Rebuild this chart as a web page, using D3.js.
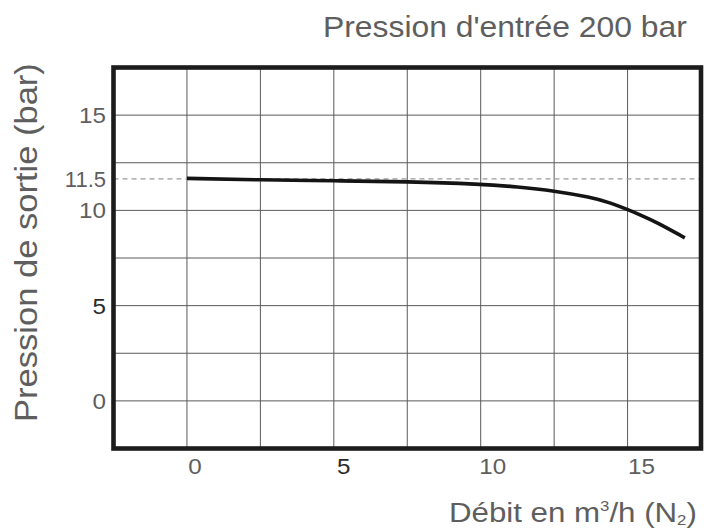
<!DOCTYPE html>
<html><head><meta charset="utf-8">
<script src="https://cdn.jsdelivr.net/npm/d3@7"></script>
<style>
html,body{margin:0;padding:0;background:#fff;}
svg{display:block;font-family:"Liberation Sans",Arial,Helvetica,sans-serif;}
</style></head>
<body>
<svg id="chart" width="704" height="531"></svg>
<script>
// ---- data ----
const flow     = [0, 2.5, 5, 7.5, 10, 11.25, 12.5, 13.75, 14.4, 15, 15.5, 16, 16.95];
const pressure = [11.68, 11.6, 11.55, 11.51, 11.38, 11.24, 11.03, 10.69, 10.41, 10.04, 9.72, 9.37, 8.56];
const xTicks = [0, 5, 10, 15];
const yTicks = [15, 10, 5, 0];
const gridX = [0, 2.5, 5, 7.5, 10, 12.5, 15];
const gridY = [0, 2.5, 5, 7.5, 10, 12.5, 15];
const refValue = 11.65;
const refLabel = "11.5";
const titleText = "Pression d'entrée 200 bar";
const yTitleText = "Pression de sortie (bar)";

// ---- layout ----
const svg = d3.select("#chart");
const x = d3.scaleLinear().domain([-2.5, 17.5]).range([113.5, 701]);
const y = d3.scaleLinear().domain([-2.5, 17.5]).range([448.5, 67.5]);
const textCol = "#5e5e5e";

// grid
svg.append("g").selectAll("line").data(gridX).join("line")
  .attr("x1", d => x(d)).attr("x2", d => x(d))
  .attr("y1", y(17.5)).attr("y2", y(-2.5))
  .attr("stroke", "#5a5a5a").attr("stroke-width", 1);
svg.append("g").selectAll("line").data(gridY).join("line")
  .attr("x1", x(-2.5)).attr("x2", x(17.5))
  .attr("y1", d => y(d)).attr("y2", d => y(d))
  .attr("stroke", "#5a5a5a").attr("stroke-width", 1);

// reference dashed line
svg.append("line")
  .attr("x1", x(-2.5)).attr("x2", x(17.5))
  .attr("y1", y(refValue)).attr("y2", y(refValue))
  .attr("stroke", "#9a9a9a").attr("stroke-width", 1.2)
  .attr("stroke-dasharray", "5,4");

// curve
const pts = flow.map((f, i) => [f, pressure[i]]);
svg.append("path").datum(pts)
  .attr("d", d3.line().x(d => x(d[0])).y(d => y(d[1])).curve(d3.curveBasis))
  .attr("fill", "none").attr("stroke", "#141414").attr("stroke-width", 3.6)
  .attr("stroke-linecap", "butt");

// frame
svg.append("rect")
  .attr("x", x(-2.5)).attr("y", y(17.5))
  .attr("width", x(17.5) - x(-2.5)).attr("height", y(-2.5) - y(17.5))
  .attr("fill", "none").attr("stroke", "#1c1c1c").attr("stroke-width", 4.6);

// helper to draw horizontally-stretched text
function stretchedText(parent, tx, ty, sx, anchor, size, color, build) {
  const g = parent.append("g").attr("transform", `translate(${tx},${ty}) scale(${sx},1)`);
  const t = g.append("text").attr("text-anchor", anchor).attr("font-size", size).attr("fill", color);
  build(t);
  return g;
}

// y tick labels
yTicks.forEach(v => {
  stretchedText(svg, 106, y(v) + 8, 1.1, "end", 22, v === 5 ? "#2a2a2a" : textCol, t => t.text(String(v)));
});
stretchedText(svg, 106, y(refValue) + 8, 1.0, "end", 22, textCol, t => t.text(refLabel));

// x tick labels
xTicks.forEach(v => {
  stretchedText(svg, x(v) + 8 + v * 0.4, 474, 1.1, "middle", 22, v === 5 ? "#2a2a2a" : textCol, t => t.text(String(v)));
});

// title (top right)
{
  const g = svg.append("g");
  const t = g.append("text").attr("font-size", 29).attr("fill", textCol).text(titleText);
  const w = t.node().getComputedTextLength();
  g.attr("transform", `translate(323,37) scale(${364 / w},1)`);
}

// x axis title
{
  const g = svg.append("g");
  const t = g.append("text").attr("font-size", 28).attr("fill", textCol);
  t.append("tspan").text("Débit en m");
  t.append("tspan").attr("font-size", 15).attr("dy", -11).text("3");
  t.append("tspan").attr("dy", 11).text("/h (N");
  t.append("tspan").attr("font-size", 15).attr("dy", 3).text("2");
  t.append("tspan").attr("dy", -3).text(")");
  const w = t.node().getBBox().width;
  g.attr("transform", `translate(449,522) scale(${248 / w},1)`);
}

// y axis title (rotated)
{
  const g = svg.append("g");
  const t = g.append("text").attr("font-size", 29).attr("fill", textCol).text(yTitleText);
  const w = t.node().getComputedTextLength();
  g.attr("transform", `translate(37,422) rotate(-90) scale(${359 / w},1.05)`);
}
</script>
</body></html>
